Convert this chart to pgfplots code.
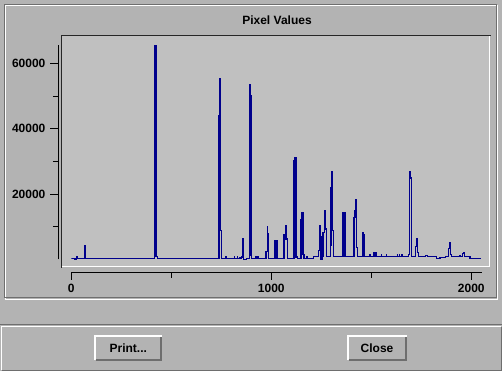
\documentclass[border=0pt]{standalone}
\usepackage{fontspec}
\setmainfont{Liberation Sans}
\usepackage{pgfplots}
\pgfplotsset{compat=1.18}
\definecolor{bg}{RGB}{179,179,179}
\definecolor{plotbg}{RGB}{192,192,192}
\definecolor{shadow}{RGB}{110,110,110}
\definecolor{navyline}{RGB}{0,0,140}
\pgfplotstableread{
ch val
0 300
18 100
24 800
28 300
65 4100
72 300
414 900
418 65535
425 900
429 300
738 43900
742 55200
747 8700
752 300
773 900
775 300
815 700
817 300
830 700
832 300
843 600
847 300
849 700
855 6200
862 0
877 300
889 1200
893 53400
897 50000
902 300
923 700
933 300
973 2500
979 9900
982 8000
987 300
1018 5600
1028 300
1063 7700
1070 10200
1073 6200
1080 300
1113 30100
1118 31000
1123 700
1131 300
1148 12300
1153 14200
1158 1500
1163 300
1177 800
1179 300
1209 900
1234 2800
1239 10200
1244 7100
1248 100
1253 900
1258 8300
1264 14800
1269 9300
1274 900
1295 4400
1298 22100
1302 27000
1307 8700
1312 900
1358 14200
1368 900
1413 12700
1418 14800
1423 18200
1427 3500
1432 900
1458 8300
1462 7700
1467 900
1493 1300
1495 900
1513 2200
1523 900
1549 1300
1551 900
1574 1300
1576 900
1630 1300
1632 900
1640 1300
1642 900
1652 1300
1654 900
1685 1500
1689 27000
1694 24900
1699 900
1722 3800
1727 6200
1732 2000
1737 900
1772 1100
1782 900
1827 300
1843 500
1872 900
1887 3200
1892 5000
1897 1500
1902 900
1939 1200
1947 900
1957 1900
1962 2200
1967 900
1977 800
1990 900
1993 300
2047 300
}\spectrum
\begin{document}
\begin{tikzpicture}
\begin{scope}[x=0.75pt,y=-0.75pt]
\useasboundingbox (0,0) rectangle (502,371);
\fill[bg] (0,0) rectangle (502,371);
% panel separators
\draw[shadow,line width=0.75pt] (0,324.8) -- (502,324.8);
\draw[white,line width=0.75pt] (1,370) -- (1,326.2) -- (501,326.2);
\draw[shadow,line width=0.75pt] (1.5,370) -- (501.3,370) -- (501.3,326.6);
% etched group frame
\draw[white,line width=0.75pt] (5.6,5.6) rectangle (497.5,299);
\draw[shadow,line width=0.75pt] (4.5,4.5) rectangle (496.3,297.8);
% title
\node[font=\bfseries\fontsize{9}{10.8}\selectfont] at (277,20) {Pixel Values};
% plot panel (sunken)
\fill[plotbg] (61,35) rectangle (490,267);
\draw[white,line width=1.1pt] (62,266.3) -- (489.6,266.3) -- (489.6,36);
\draw[black!85,line width=1.1pt] (490.8,35.5) -- (61.5,35.5) -- (61.5,267.5);
% buttons
\draw[white,line width=1.3pt] (94.8,360) -- (94.8,335.8) -- (161.5,335.8);
\draw[shadow,line width=1.3pt] (95.5,359.8) -- (161.3,359.8) -- (161.3,336.5);
\node[font=\bfseries\fontsize{9}{10.8}\selectfont] at (128.3,348) {Print...};
\draw[white,line width=1.3pt] (347.8,360) -- (347.8,335.8) -- (406.5,335.8);
\draw[shadow,line width=1.3pt] (348.5,359.8) -- (406.3,359.8) -- (406.3,336.5);
\node[font=\bfseries\fontsize{9}{10.8}\selectfont] at (377,348) {Close};
\end{scope}
% data axis
\begin{axis}[
  at={(53.475pt,-194.475pt)}, anchor=south west,
  scale only axis, width=307.8pt, height=160.65pt,
  xmin=0, xmax=2052, ymin=0, ymax=65600,
  hide axis]
\addplot[const plot, navyline, line width=0.9pt] table[x=ch,y=val] {\spectrum};
\end{axis}
% y axis
\begin{axis}[
  at={(44.1pt,-194.475pt)}, anchor=south west,
  scale only axis, width=1pt, height=160.65pt,
  xmin=0, xmax=1, ymin=0, ymax=65600,
  axis y line=left, axis x line=none,
  axis line style={-, line width=1pt, black},
  ytick={20000,40000,60000}, minor ytick={10000,30000,50000},
  scaled y ticks=false,
  tick align=outside, major tick length=6.5pt, minor tick length=4.5pt,
  tick style={line width=0.75pt, black},
  /pgf/number format/1000 sep={},
  /pgf/number format/assume math mode=true,
  yticklabel style={font=\bfseries\fontsize{9}{10.8}\selectfont}]
\end{axis}
% x axis
\begin{axis}[
  at={(53.475pt,-204.525pt)}, anchor=south west,
  scale only axis, width=307.8pt, height=1pt,
  xmin=0, xmax=2052, ymin=0, ymax=1,
  axis x line=bottom, axis y line=none,
  axis line style={-, line width=1pt, black},
  xtick={0,1000,2000}, minor xtick={500,1500},
  scaled x ticks=false,
  tick align=outside, major tick length=5.25pt, minor tick length=3.75pt,
  tick style={line width=0.75pt, black},
  /pgf/number format/1000 sep={},
  /pgf/number format/assume math mode=true,
  xticklabel style={font=\bfseries\fontsize{9}{10.8}\selectfont}]
\end{axis}
\end{tikzpicture}
\end{document}
